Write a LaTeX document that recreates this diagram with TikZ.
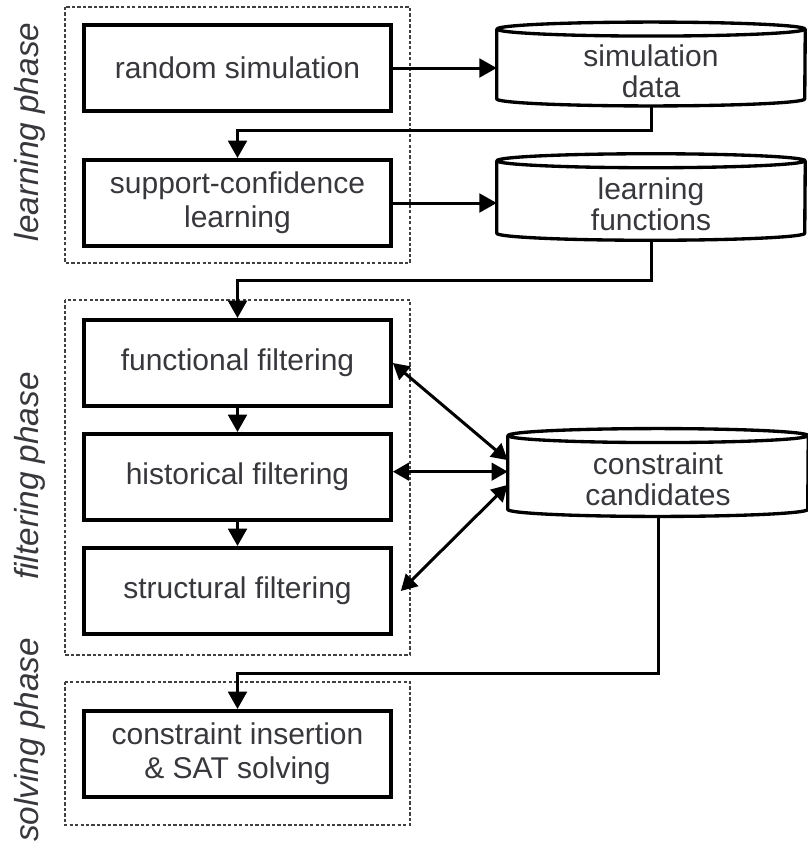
\documentclass[tikz,border=0pt]{standalone}
\usepackage{fontspec}
\setmainfont{Liberation Sans}
\usetikzlibrary{arrows.meta}
\definecolor{textgray}{RGB}{55,55,60}
\tikzset{
  stepbox/.style={draw=black,line width=3pt,minimum width=230pt,minimum height=64.5pt,align=center,text=textgray,font=\fontsize{22.5}{25.5}\selectfont},
  store/.style={minimum width=#1,inner sep=0pt,align=center,text=textgray,font=\fontsize{22.5}{23}\selectfont},
  drumline/.style={draw=black,line width=2.5pt,line join=round},
  phasebox/.style={draw=black!75,line width=0.8pt,dash pattern=on 2.5pt off 1.6pt},
  phaselabel/.style={rotate=90,text=textgray,font=\fontsize{25}{28}\selectfont\itshape},
  arr/.style={line width=2.25pt,-{Triangle[length=13pt,width=14pt]}},
  darr/.style={line width=2.25pt,{Triangle[length=12pt,width=13pt]}-{Triangle[length=12pt,width=13pt]}}
}
% outline of a drum around a store node: #1 name, #2 half width, #3 end radius
\newcommand\drum[3]{%
  \draw[drumline] ([yshift=#3]#1.north west) -- ([yshift=#3]#1.south west)
    arc[start angle=180,end angle=360,x radius=#2,y radius=#3]
    -- ([yshift=#3]#1.north east);
  \draw[drumline] ([yshift=#3]#1.north) ellipse[x radius=#2,y radius=#3];
}
\begin{document}
\begin{tikzpicture}[x=0.75pt,y=-0.75pt]
\useasboundingbox (0,0) rectangle (808,844);
% phases
\draw[phasebox] (65,7) rectangle (410,263);
\draw[phasebox] (65,300) rectangle (410,655);
\draw[phasebox] (65,682) rectangle (410,825);
\node[phaselabel] (lp) at (30,132) {learning phase};
\node[phaselabel] (fp) at (30,476) {filtering phase};
\node[phaselabel] (sp) at (30,740) {solving phase};
% steps
\node[stepbox] (rs) at (237.5,68) {random simulation};
\node[stepbox] (sc) at (237.5,203) {support-confidence\\learning};
\node[stepbox] (ff) at (237.5,363) {functional filtering};
\node[stepbox] (hf) at (237.5,477) {historical filtering};
\node[stepbox] (sf) at (237.5,591) {structural filtering};
\node[stepbox] (ci) at (237.5,754) {constraint insertion\\\& SAT solving};
% stores
\node[store=231pt,minimum height=52pt] (sd) at (651,71) {simulation\\data};
\node[store=231pt,minimum height=54pt] (lf) at (651,204) {learning\\functions};
\node[store=225pt,minimum height=55pt] (cc) at (658,479.5) {constraint\\candidates};
\drum{sd}{115.5pt}{5.25pt}
\drum{lf}{115.5pt}{5.25pt}
\drum{cc}{112.5pt}{5.25pt}
% connectors
\coordinate (k1) at (0,130);
\coordinate (k2) at (0,280);
\coordinate (k3) at (0,673);
\draw[arr] (rs.east) -- (rs.east -| sd.west);
\draw[arr] (sc.east) -- (sc.east -| lf.west);
\draw[arr] (sd.south) |- (sc.north |- k1) -- (sc.north);
\draw[arr] (lf.south) |- (ff.north |- k2) -- (ff.north);
\draw[arr] (cc.south) |- (ci.north |- k3) -- (ci.north);
\draw[arr] (ff.south) -- (hf.north);
\draw[arr] (hf.south) -- (sf.north);
\draw[darr] (ff.east) -- ([yshift=14.5pt]cc.west);
\draw[darr] ([yshift=4pt]hf.east) -- ([yshift=4pt]hf.east -| cc.west);
\draw[darr] ([xshift=6pt]sf.east) -- ([yshift=-4pt]cc.west);
\end{tikzpicture}
\end{document}
